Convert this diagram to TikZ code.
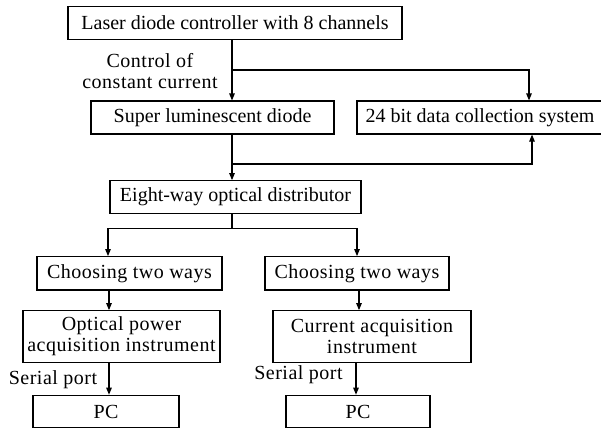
\documentclass[tikz,border=0pt]{standalone}
\usepackage{fontspec}
\setmainfont{Liberation Serif}
\usetikzlibrary{arrows.meta}
\begin{document}
\begin{tikzpicture}[x=1pt,y=-1pt,
  font=\fontsize{20}{21}\selectfont,
  box/.style={draw, line width=1.1pt, inner sep=0pt, align=center},
  spaced/.style={font=\fontsize{20}{21}\selectfont\addfontfeatures{LetterSpace=2.5}},
  conn/.style={line width=1.1pt},
  arr/.style={conn, -{Triangle[length=7pt,width=5.5pt]}}]
\useasboundingbox (0,0) rectangle (601,429);
\clip (0,0) rectangle (601,429);
% boxes
\node[box, minimum width=334pt, minimum height=33pt] (ldc) at (235,22.7) {Laser diode controller with 8 channels};
\node[box, minimum width=243pt, minimum height=33pt] (sld) at (212.5,117.5) {Super luminescent diode};
\node[box, minimum width=246pt, minimum height=33pt] (dcs) at (480,117.5) {24 bit data collection system};
\node[box, minimum width=251pt, minimum height=32.6pt] (eod) at (235.5,197) {Eight-way optical distributor};
\node[box, spaced, minimum width=185pt, minimum height=33.3pt] (ctl) at (129.5,273.3) {Choosing two ways};
\node[box, spaced, minimum width=184pt, minimum height=33.3pt] (ctr) at (357,273.3) {Choosing two ways};
\node[box, spaced, minimum width=197pt, minimum height=51.6pt] (opa) at (121.5,336.5) {Optical power\\acquisition instrument};
\node[box, spaced, minimum width=198pt, minimum height=51.6pt] (cai) at (372,336.5) {Current acquisition\\instrument};
\node[box, spaced, minimum width=146pt, minimum height=32.5pt] (pcl) at (106,411.5) {PC};
\node[box, spaced, minimum width=144pt, minimum height=32.5pt] (pcr) at (358,411.5) {PC};
% labels
\node[spaced, align=center, inner sep=0pt] (lcc) at (150,71.3) {Control of\\constant current};
\node[spaced, inner sep=0pt] (spl) at (53,379.3) {Serial port};
\node[spaced, inner sep=0pt] (spr) at (298.5,375) {Serial port};
% connector guides
\coordinate (tx) at (232,0);
\coordinate (j1) at (232,70);
\coordinate (j2) at (232,164);
\coordinate (j3) at (232,228.3);
\coordinate (d1) at (529,0);
\coordinate (d2) at (532,0);
\coordinate (bl) at (108,0);
\coordinate (br) at (357,0);
\coordinate (a1) at (109,0);
\coordinate (a2) at (359,0);
\coordinate (a3) at (356,0);
% connectors
\draw[arr] (ldc.south -| tx) -- (sld.north -| tx);
\draw[arr] (j1) -- (j1 -| d1) -- (dcs.north -| d1);
\draw[arr] (sld.south -| tx) -- (eod.north -| tx);
\draw[arr] (j2) -- (j2 -| d2) -- (dcs.south -| d2);
\draw[conn] (eod.south -| tx) -- (j3);
\draw[arr] (j3) -- (j3 -| bl) -- (ctl.north -| bl);
\draw[arr] (j3) -- (j3 -| br) -- (ctr.north -| br);
\draw[arr] (ctl.south -| a1) -- (opa.north -| a1);
\draw[arr] (ctr.south -| a2) -- (cai.north -| a2);
\draw[arr] (opa.south -| a1) -- (pcl.north -| a1);
\draw[arr] (cai.south -| a3) -- (pcr.north -| a3);
\end{tikzpicture}
\end{document}
